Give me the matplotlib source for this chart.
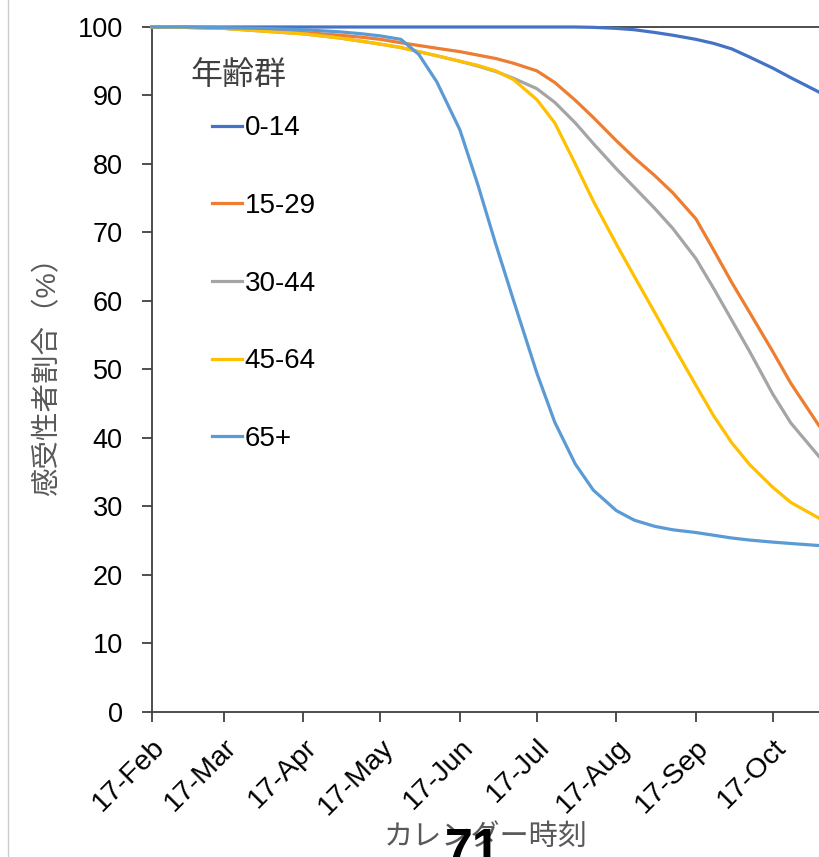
import matplotlib
matplotlib.use('agg')
import matplotlib.pyplot as plt
import matplotlib.dates as mdates
import pandas as pd
from matplotlib.lines import Line2D

plt.rcParams['font.family'] = ['Liberation Sans', 'Noto Sans CJK JP']

# sample dates (year only used for spacing of months)
dates = pd.to_datetime([
    '2021-02-17', '2021-03-01', '2021-03-17', '2021-04-01', '2021-04-17',
    '2021-05-01', '2021-05-10', '2021-05-17', '2021-05-25', '2021-06-01',
    '2021-06-08', '2021-06-17', '2021-06-24', '2021-07-01', '2021-07-08',
    '2021-07-17', '2021-07-24', '2021-08-01', '2021-08-08', '2021-08-17',
    '2021-08-24', '2021-09-01', '2021-09-08', '2021-09-17', '2021-09-24',
    '2021-10-01', '2021-10-08', '2021-10-17', '2021-10-24', '2021-11-04'])

age_0_14 = [100, 100, 100, 100, 100, 100, 100, 100, 100, 100,
            100, 100, 100, 100, 100, 100, 100, 100, 99.95, 99.8,
            99.6, 99.2, 98.8, 98.2, 97.6, 96.8, 95.6, 94.0, 92.6, 90.5]
age_15_29 = [100, 99.95, 99.8, 99.5, 99.2, 98.8, 98.5, 98.2, 97.7, 97.3,
             96.9, 96.4, 95.9, 95.4, 94.7, 93.6, 91.9, 89.3, 86.8, 83.4,
             80.9, 78.3, 75.8, 72.0, 67.4, 62.7, 58.3, 52.6, 48.0, 41.8]
age_30_44 = [100, 99.95, 99.8, 99.4, 99.0, 98.4, 97.9, 97.5, 97.0, 96.4,
             95.8, 95.0, 94.3, 93.5, 92.5, 91.0, 89.0, 86.0, 83.0, 79.3,
             76.6, 73.5, 70.6, 66.2, 61.8, 57.2, 52.6, 46.4, 42.2, 37.3]
age_45_64 = [100, 99.95, 99.8, 99.4, 99.0, 98.4, 97.9, 97.5, 97.0, 96.4,
             95.8, 95.0, 94.4, 93.6, 92.3, 89.4, 86.0, 80.0, 74.6, 68.3,
             63.6, 58.3, 53.6, 47.7, 43.2, 39.3, 36.1, 32.8, 30.6, 28.3]
age_65 = [100, 100, 99.9, 99.8, 99.6, 99.3, 99.0, 98.7, 98.2, 96.0,
          92.0, 85.0, 77.0, 68.3, 60.0, 49.5, 42.3, 36.2, 32.4, 29.4,
          28.0, 27.1, 26.6, 26.2, 25.8, 25.4, 25.1, 24.8, 24.6, 24.3]

labels = ['0-14', '15-29', '30-44', '45-64', '65+']
colors = ['#4472C4', '#ED7D31', '#A5A5A5', '#FFC000', '#5B9BD5']
series = [age_0_14, age_15_29, age_30_44, age_45_64, age_65]

tick_dates = pd.to_datetime(['2021-%02d-17' % m for m in range(2, 11)])

fig = plt.figure(figsize=(8.19, 8.57), dpi=100)
ax = fig.add_axes([0.1856, 0.1692, 0.8144, 0.7993])

for vals, c, lab in zip(series, colors, labels):
    ax.plot(dates, vals, color=c, lw=2.3, label=lab, clip_on=False, zorder=3,
            solid_joinstyle='round')

ax.set_xlim(dates[0], dates[-1])
ax.set_ylim(0, 100)
ax.set_yticks(range(0, 101, 10))
ax.set_xticks(tick_dates)
ax.xaxis.set_major_formatter(mdates.DateFormatter('%d-%b'))
plt.setp(ax.get_xticklabels(), rotation=45, ha='right', rotation_mode='anchor')

for s in ['left', 'bottom', 'top']:
    ax.spines[s].set_color('#404040')
    ax.spines[s].set_linewidth(1.3)
ax.spines['right'].set_visible(False)
ax.tick_params(axis='both', direction='out', length=7, width=1.3, color='#404040',
               labelcolor='black')
ax.tick_params(axis='y', pad=14, labelsize=19.5)
ax.tick_params(axis='x', pad=9, labelsize=20.5)

ax.set_ylabel('感受性者割合（%）', fontsize=20.5, color='#595959', labelpad=12)
ax.set_xlabel('カレンダー時刻', fontsize=21, color='#595959', labelpad=2)

leg = ax.legend(loc='upper left', bbox_to_anchor=(0.09, 0.871), frameon=False,
                fontsize=20, handlelength=1.08, handletextpad=0.1,
                labelspacing=1.86, borderaxespad=0, borderpad=0)
ax.text(0.058, 0.929, '年齢群', transform=ax.transAxes, fontsize=23,
        color='#404040', va='center', ha='left')

# page edge and page number from the source document
fig.add_artist(Line2D([0.0098, 0.0098], [0, 1], transform=fig.transFigure,
                      color='#cccccc', lw=1))
fig.text(0.577, -0.008, '71', fontsize=36, fontweight='bold', ha='center',
         va='baseline', color='black')

fig.savefig('out.png', dpi=100, facecolor='white')
plt.close(fig)
